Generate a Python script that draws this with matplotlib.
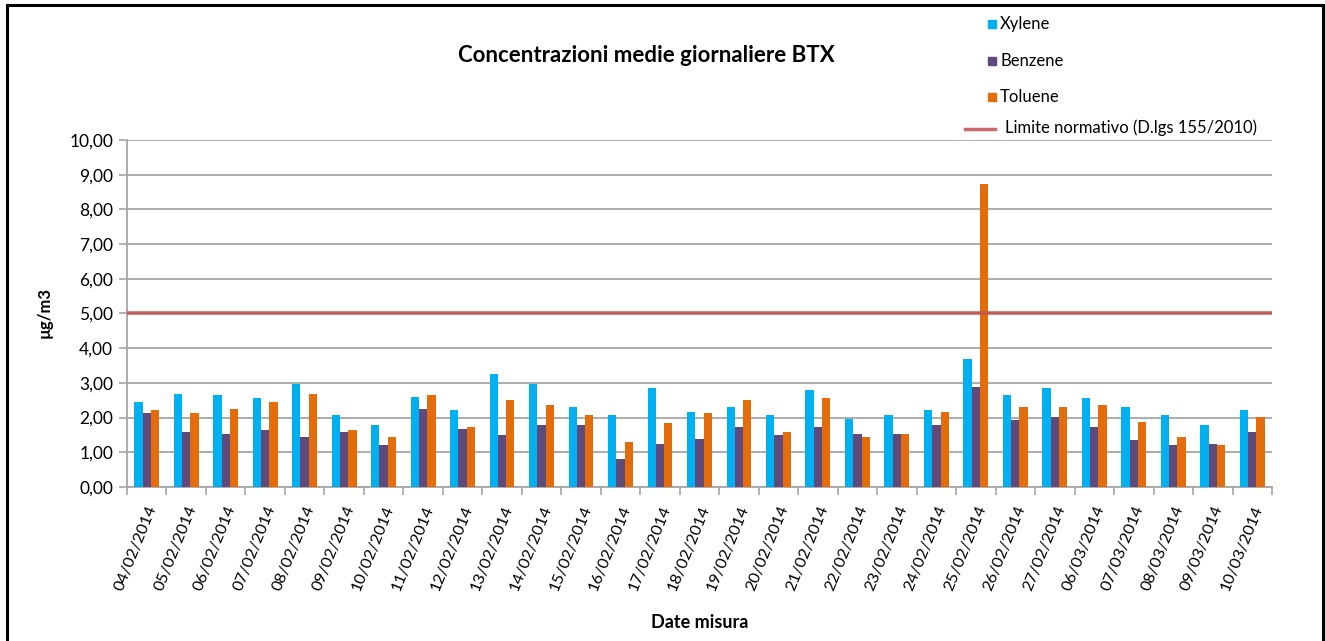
import matplotlib
matplotlib.use("Agg")
import matplotlib.pyplot as plt
import numpy as np
from matplotlib.patches import Rectangle
from matplotlib.lines import Line2D

# data
dates = ["04/02/2014", "05/02/2014", "06/02/2014", "07/02/2014", "08/02/2014",
         "09/02/2014", "10/02/2014", "11/02/2014", "12/02/2014", "13/02/2014",
         "14/02/2014", "15/02/2014", "16/02/2014", "17/02/2014", "18/02/2014",
         "19/02/2014", "20/02/2014", "21/02/2014", "22/02/2014", "23/02/2014",
         "24/02/2014", "25/02/2014", "26/02/2014", "27/02/2014", "06/03/2014",
         "07/03/2014", "08/03/2014", "09/03/2014", "10/03/2014"]
xylene = [2.45, 2.69, 2.64, 2.55, 2.98, 2.07, 1.78, 2.60, 2.21, 3.27,
          2.98, 2.31, 2.07, 2.84, 2.16, 2.31, 2.07, 2.79, 1.97, 2.07,
          2.21, 3.70, 2.64, 2.84, 2.55, 2.31, 2.07, 1.78, 2.21]
benzene = [2.12, 1.59, 1.54, 1.63, 1.44, 1.59, 1.20, 2.26, 1.68, 1.49,
           1.78, 1.78, 0.82, 1.25, 1.39, 1.73, 1.49, 1.73, 1.54, 1.54,
           1.78, 2.88, 1.92, 2.02, 1.73, 1.35, 1.20, 1.25, 1.59]
toluene = [2.23, 2.12, 2.26, 2.45, 2.69, 1.63, 1.44, 2.64, 1.73, 2.50,
           2.36, 2.07, 1.30, 1.83, 2.12, 2.50, 1.59, 2.55, 1.44, 1.54,
           2.16, 8.73, 2.31, 2.31, 2.36, 1.88, 1.44, 1.20, 2.02]
limite = [5.0] * len(dates)
yticks = np.arange(0, 11, 1)

series = [("Xylene", xylene, "#00B0F0"),
          ("Benzene", benzene, "#604A7B"),
          ("Toluene", toluene, "#E46C0A")]

plt.rcParams['font.family'] = ['Lato', 'DejaVu Sans']

fig = plt.figure(figsize=(13.25, 6.41), dpi=100)
ax = fig.add_axes([0.0958, 0.2403, 0.8642, 0.5413])

x = np.arange(len(dates))
w = 0.21
for i, (name, vals, col) in enumerate(series):
    ax.bar(x + (i - 1) * w, vals, width=w, color=col, linewidth=0, zorder=3)

# limit line, spanning the whole plot width
xl = np.linspace(-0.5, len(dates) - 0.5, len(dates))
ax.plot(xl, limite, color="#C0504D", lw=2.6, alpha=0.85, zorder=4)

ax.set_xlim(-0.5, len(dates) - 0.5)
ax.set_ylim(0, 10)
ax.set_yticks(yticks)
ax.set_yticklabels([f"{v:.2f}".replace(".", ",") for v in yticks], fontsize=12.5)
ax.yaxis.grid(True, color="#A6A6A6", lw=1.3, zorder=0)
ax.set_axisbelow(True)

ax.set_xticks(x)
ax.set_xticklabels(dates, rotation=68, ha="right", va="top",
                   rotation_mode="anchor", fontsize=11.8)
ax.set_xticks(np.arange(-0.5, len(dates), 1), minor=True)
ax.tick_params(axis="x", which="major", length=0, pad=12)
ax.tick_params(axis="x", which="minor", length=6, color="#A6A6A6", width=1.2)
ax.tick_params(axis="y", length=6, color="#A6A6A6", width=1.2, pad=4)

for s in ["top", "right"]:
    ax.spines[s].set_visible(False)
for s in ["left", "bottom"]:
    ax.spines[s].set_color("#A6A6A6")
    ax.spines[s].set_linewidth(1.3)

fig.text(0.488, 0.914, "Concentrazioni medie giornaliere BTX", ha="center",
         va="center", fontsize=16, fontweight="bold")
fig.text(0.528, 0.029, "Date misura", ha="center", va="center",
         fontsize=13, fontweight="bold")
fig.text(0.034, 0.512, "µg/m3", ha="center", va="center", rotation=90,
         fontsize=12, fontweight="bold")

# legend drawn by hand to match the layout
W, H = 1325.0, 641.0
leg_y = [24, 61, 97]
for (name, vals, col), yy in zip(series, leg_y):
    fig.patches.append(Rectangle((988 / W, 1 - (yy + 4) / H), 8 / W, 8 / H,
                                 transform=fig.transFigure, color=col))
    fig.text(1000 / W, 1 - yy / H, name, ha="left", va="center", fontsize=12)
fig.lines.append(Line2D([965 / W, 995 / W], [1 - 129 / H, 1 - 129 / H],
                        transform=fig.transFigure, color="#C0504D", lw=2.5, alpha=0.85))
fig.text(1005 / W, 1 - 128 / H, "Limite normativo (D.lgs 155/2010)", ha="left",
         va="center", fontsize=12)

# outer frame
fig.patches.append(Rectangle((7 / W, -0.05), (1323 - 7) / W, 1.05 - 5 / H,
                             transform=fig.transFigure, fill=False,
                             edgecolor="black", lw=2.2))

fig.savefig("out.png", dpi=100)
